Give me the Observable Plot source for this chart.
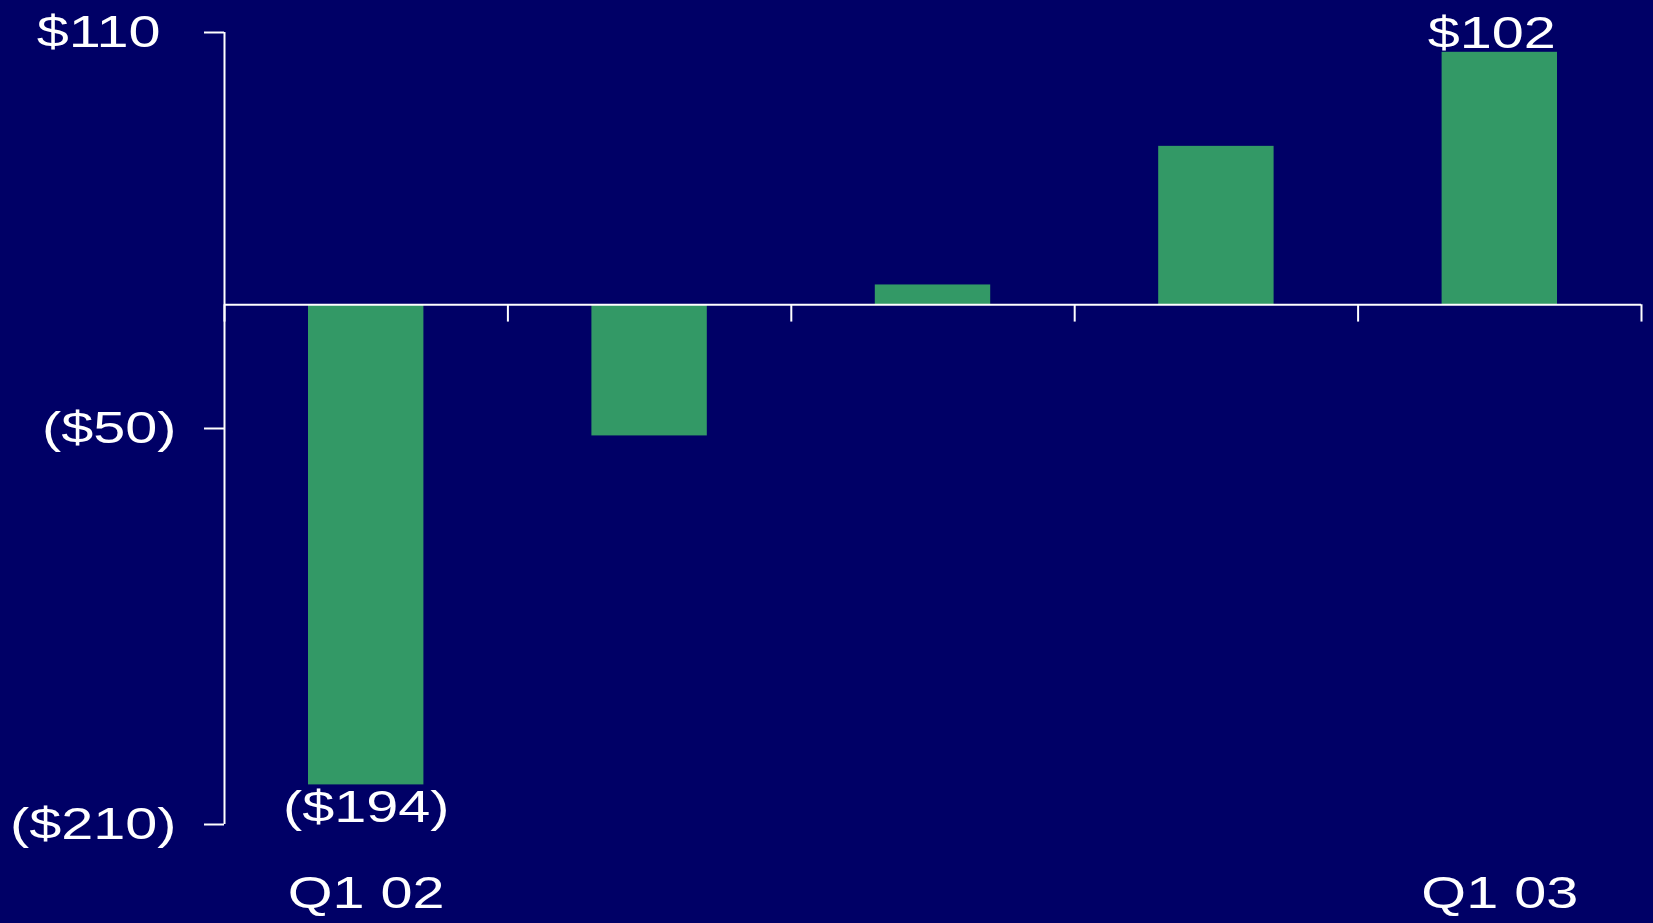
<!DOCTYPE html>
<html><head><meta charset="utf-8">
<script src="https://cdn.jsdelivr.net/npm/d3@7"></script>
<script src="https://cdn.jsdelivr.net/npm/@observablehq/plot@0.6"></script>
<style>
html,body{margin:0;padding:0;background:#000066;overflow:hidden;}
</style></head><body><div id="chart"></div>
<script>
const quarters = ["Q1 02","Q2 02","Q3 02","Q4 02","Q1 03"];
const values = [-194,-53,8,64,102];
const quarterLabels = ["Q1 02","","","","Q1 03"];
const showValue = [true,false,false,false,true];
const yTicks = [110,-50,-210];
const boundaries = [0,1,2,3,4,5];

const fmt = d => d < 0 ? `($${-d})` : `$${d}\u00a0`;
const data = quarters.map((q,i)=>({q, i, value: values[i], qLabel: quarterLabels[i], vLabel: showValue[i] ? fmt(values[i]) : ""}));

const FONT = 45;
const chart = Plot.plot({
  width:1653, height:923,
  marginLeft:224, marginRight:12, marginTop:32, marginBottom:99,
  style:{background:"#000066", color:"white", fontFamily:"'Liberation Sans', Arial, sans-serif", overflow:"visible"},
  x:{domain:[0,5], axis:null},
  y:{domain:[-210,110]},
  marks:[
    Plot.rectY(data,{x1:d=>d.i, x2:d=>d.i+1, y1:0, y2:"value", fill:"#339966", insetLeft:84, insetRight:84}),
    Plot.ruleX([0],{stroke:"white", strokeWidth:2}),
    Plot.ruleY([0],{stroke:"white", strokeWidth:2}),
    Plot.ruleX(boundaries,{y1:0, y2:-7, stroke:"white", strokeWidth:2}),
    Plot.axisY(yTicks,{tickSize:20, tickPadding:28, tickFormat:fmt, fontSize:FONT, label:null, strokeWidth:2}),
    Plot.text(data,{filter:d=>d.vLabel && d.value<0, x:d=>d.i+0.5, y:"value", text:"vLabel", lineAnchor:"top", dy:5, fontSize:FONT, fill:"white"}),
    Plot.text(data,{filter:d=>d.vLabel && d.value>=0, x:d=>d.i+0.5, y:"value", text:"vLabel", lineAnchor:"bottom", dy:-4, fontSize:FONT, fill:"white"}),
    Plot.text(data,{filter:d=>d.qLabel, x:d=>d.i+0.5, frameAnchor:"bottom", text:"qLabel", lineAnchor:"top", dy:52, fontSize:FONT, fill:"white"})
  ]
});
// horizontal stretch of glyphs as in the reference
chart.querySelectorAll("text").forEach(t=>{
  const tr = t.getAttribute("transform") || "";
  t.setAttribute("transform", tr + " scale(1.28,1)");
});
document.getElementById("chart").appendChild(chart);
</script></body></html>
